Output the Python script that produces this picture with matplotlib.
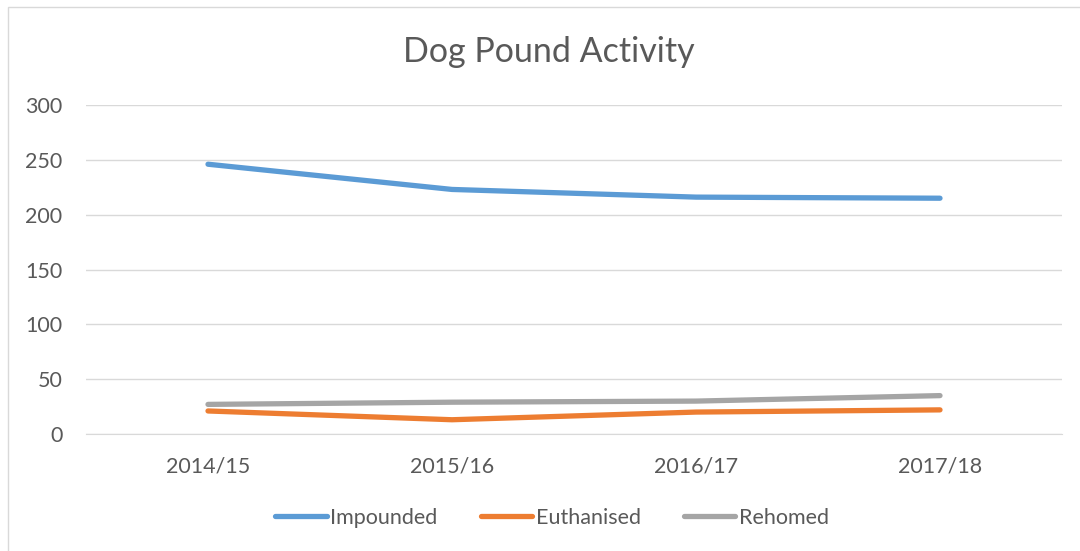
import matplotlib
matplotlib.use("Agg")
import matplotlib.pyplot as plt
from matplotlib.patches import Rectangle

categories = ["2014/15", "2015/16", "2016/17", "2017/18"]
impounded = [246, 223, 216, 215]
euthanised = [21, 13, 20, 22]
rehomed = [27, 29, 30, 35]
yticks = [0, 50, 100, 150, 200, 250, 300]

plt.rcParams['font.family'] = ['Lato', 'DejaVu Sans']
txt = '#595959'

fig = plt.figure(figsize=(10.8, 5.51), dpi=100)
ax = fig.add_axes([86/1080, 1-434/551, (1062-86)/1080, (434-105)/551])

x = list(range(len(categories)))
series = [("Impounded", impounded, '#5B9BD5'),
          ("Euthanised", euthanised, '#ED7D31'),
          ("Rehomed", rehomed, '#A5A5A5')]
for name, vals, col in series:
    ax.plot(x, vals, color=col, lw=3.8, solid_capstyle='round',
            solid_joinstyle='round', label=name, zorder=3)

ax.set_xlim(-0.5, len(categories) - 0.5)
ax.set_ylim(0, 300)
ax.set_yticks(yticks)
ax.set_xticks(x)
ax.set_xticklabels(categories)
ax.grid(axis='y', color='#D9D9D9', lw=1.0, zorder=0)
for s in ax.spines.values():
    s.set_visible(False)
ax.spines['bottom'].set_visible(True)
ax.spines['bottom'].set_color('#D9D9D9')
ax.tick_params(axis='both', length=0, labelsize=15.5, labelcolor=txt)
ax.tick_params(axis='y', pad=17)
ax.tick_params(axis='x', pad=16)

fig.text(549/1080, 1-52/551, "Dog Pound Activity", ha='center', va='center',
         fontsize=24.5, color=txt)

leg = fig.legend(loc='center', bbox_to_anchor=(552/1080, 1-518/551), ncol=3,
                 frameon=False, fontsize=15.5, handlelength=2.4, handletextpad=0.15,
                 columnspacing=2.0)
for t in leg.get_texts():
    t.set_color(txt)

fig.patches.append(Rectangle((8/1080, -0.1), 1.2, 1.1 - 7/551, transform=fig.transFigure,
                             fill=False, edgecolor='#D9D9D9', lw=1.0))

fig.savefig("out.png", dpi=100)
